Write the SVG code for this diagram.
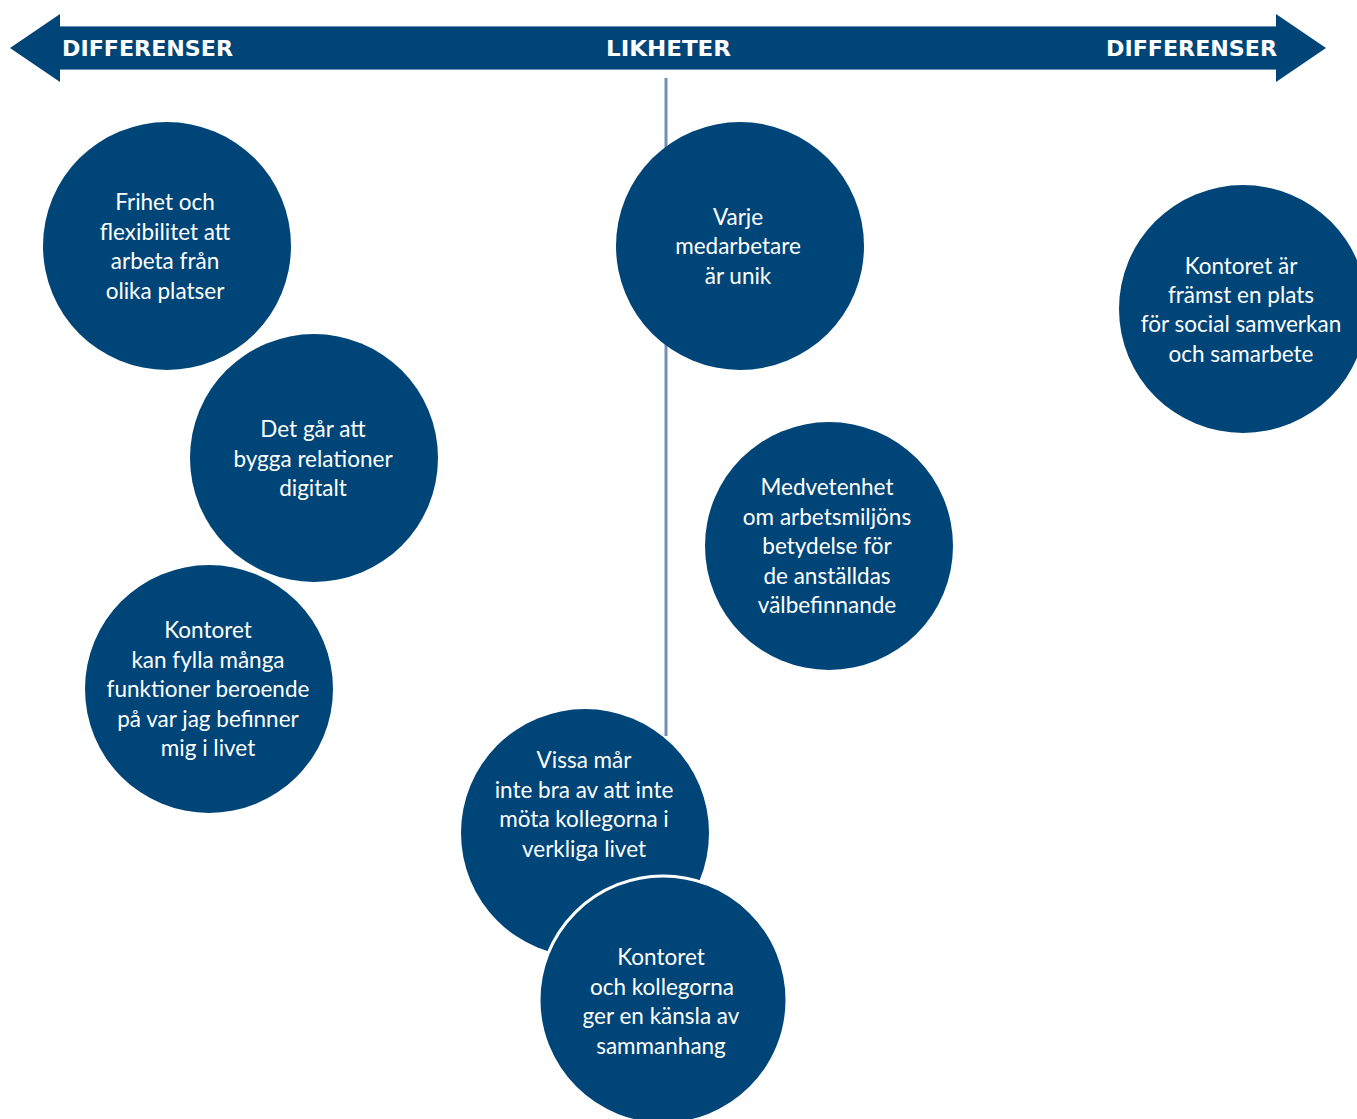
<svg xmlns="http://www.w3.org/2000/svg" width="1357" height="1119" viewBox="0 0 1357 1119">
<style>
.c{fill:#004578}
.t{fill:#fff;font-family:Lato,"Open Sans",sans-serif;font-size:22.5px;text-anchor:middle}
.h{fill:#fff;font-family:"DejaVu Sans",Verdana,sans-serif;font-weight:bold;font-size:22px}
</style>
<rect width="1357" height="1119" fill="#fff"/>
<g id="axis">
<polygon points="10,48 60,14 60,26 1276,26 1276,14 1326,48 1276,82 1276,70 60,70 60,82" fill="#004578"/>
<line x1="60" y1="26.5" x2="1276" y2="26.5" stroke="#6f8fb5" stroke-width="1"/>
<line x1="60" y1="69.5" x2="1276" y2="69.5" stroke="#6f8fb5" stroke-width="1"/>
<text class="h" x="62" y="56" textLength="171" lengthAdjust="spacingAndGlyphs">DIFFERENSER</text>
<text class="h" x="606" y="56" textLength="125" lengthAdjust="spacingAndGlyphs">LIKHETER</text>
<text class="h" x="1106" y="56" textLength="171" lengthAdjust="spacingAndGlyphs">DIFFERENSER</text>
</g>
<g id="connectors">
<line x1="666" y1="78" x2="666" y2="736" stroke="#6f8fb5" stroke-width="3"/>
</g>
<g id="n1"><circle class="c" cx="167" cy="246" r="124"/>
<text class="t" x="165" y="210">Frihet och</text><text class="t" x="165" y="240">flexibilitet att</text><text class="t" x="165" y="269">arbeta från</text><text class="t" x="165" y="299">olika platser</text></g>
<g id="n2"><circle class="c" cx="314" cy="458" r="124"/>
<text class="t" x="313" y="437">Det går att</text><text class="t" x="313" y="467">bygga relationer</text><text class="t" x="313" y="496">digitalt</text></g>
<g id="n3"><circle class="c" cx="209" cy="689" r="124"/>
<text class="t" x="208" y="638">Kontoret</text><text class="t" x="208" y="668">kan fylla många</text><text class="t" x="208" y="697">funktioner beroende</text><text class="t" x="208" y="727">på var jag befinner</text><text class="t" x="208" y="756">mig i livet</text></g>
<g id="n4"><circle class="c" cx="740" cy="246" r="124"/>
<text class="t" x="738" y="225">Varje</text><text class="t" x="738" y="254">medarbetare</text><text class="t" x="738" y="284">är unik</text></g>
<g id="n5"><circle class="c" cx="1243" cy="309" r="124"/>
<text class="t" x="1241" y="274">Kontoret är</text><text class="t" x="1241" y="303">främst en plats</text><text class="t" x="1241" y="332">för social samverkan</text><text class="t" x="1241" y="362">och samarbete</text></g>
<g id="n6"><circle class="c" cx="829" cy="546" r="124"/>
<text class="t" x="827" y="495">Medvetenhet</text><text class="t" x="827" y="525">om arbetsmiljöns</text><text class="t" x="827" y="554">betydelse för</text><text class="t" x="827" y="584">de anställdas</text><text class="t" x="827" y="613">välbefinnande</text></g>
<g id="n7"><circle class="c" cx="585" cy="833" r="124"/>
<text class="t" x="584" y="768">Vissa mår</text><text class="t" x="584" y="798">inte bra av att inte</text><text class="t" x="584" y="827">möta kollegorna i</text><text class="t" x="584" y="857">verkliga livet</text></g>
<g id="n8"><circle class="c" cx="663" cy="1000" r="124" stroke="#fff" stroke-width="3"/>
<text class="t" x="661" y="965">Kontoret</text><text class="t" x="662" y="995">och kollegorna</text><text class="t" x="661" y="1024">ger en känsla av</text><text class="t" x="661" y="1054">sammanhang</text></g>
</svg>
